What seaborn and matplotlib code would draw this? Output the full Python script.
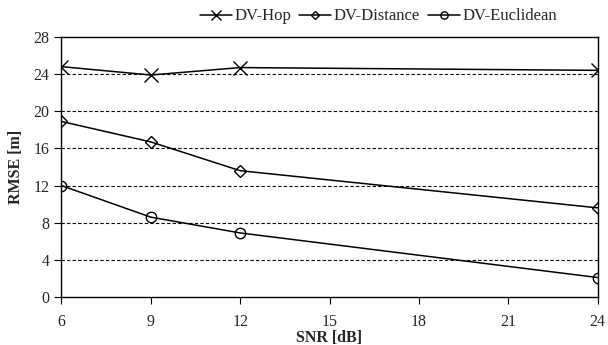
import numpy as np
import pandas as pd
import matplotlib
matplotlib.use('Agg')
import matplotlib.pyplot as plt
import seaborn as sns

snr = [6, 9, 12, 24]
dv_hop = [24.8, 23.9, 24.7, 24.4]
dv_distance = [18.9, 16.7, 13.6, 9.6]
dv_euclidean = [12.0, 8.6, 6.9, 2.1]

sns.set_style('ticks')
plt.rcParams['font.family'] = ['Liberation Serif', 'DejaVu Serif']

fig = plt.figure(figsize=(6.08, 3.45), dpi=100)
ax = fig.add_axes([0.101, 0.139, 0.882, 0.754])

series = [('DV-Hop', dv_hop, 'x', 10),
          ('DV-Distance', dv_distance, 'D', 6),
          ('DV-Euclidean', dv_euclidean, 'o', 7.5)]
for name, vals, mk, ms in series:
    sns.lineplot(x=snr, y=vals, ax=ax, color='black', linewidth=1.1,
                 marker=mk, markersize=ms, markerfacecolor='none',
                 markeredgecolor='black', markeredgewidth=1.0, label=name)

ax.set_xlim(6, 24)
ax.set_ylim(0, 28)
ax.set_xticks(range(6, 25, 3))
ax.set_yticks(range(0, 29, 4))
for y in range(4, 28, 4):
    ax.axhline(y, color='black', linestyle=(0, (3, 2)), linewidth=0.8, zorder=0)
for s in ax.spines.values():
    s.set_visible(True)
    s.set_color('black')
    s.set_linewidth(1.0)
ax.tick_params(axis='both', labelsize=11.5, direction='out', length=5, color='black')
ax.tick_params(axis='x', pad=7)
ax.set_xlabel('SNR [dB]', fontsize=11.5, fontweight='bold', labelpad=0)
ax.set_ylabel('RMSE [m]', fontsize=11.5, fontweight='bold', labelpad=7)

ax.legend(loc='lower right', bbox_to_anchor=(0.93, 1.035), ncol=3, frameon=False,
          fontsize=12, handlelength=1.9, handletextpad=0.15, columnspacing=0.5,
          borderaxespad=0, borderpad=0.2, markerscale=0.7)

fig.savefig('out.png', dpi=100)
